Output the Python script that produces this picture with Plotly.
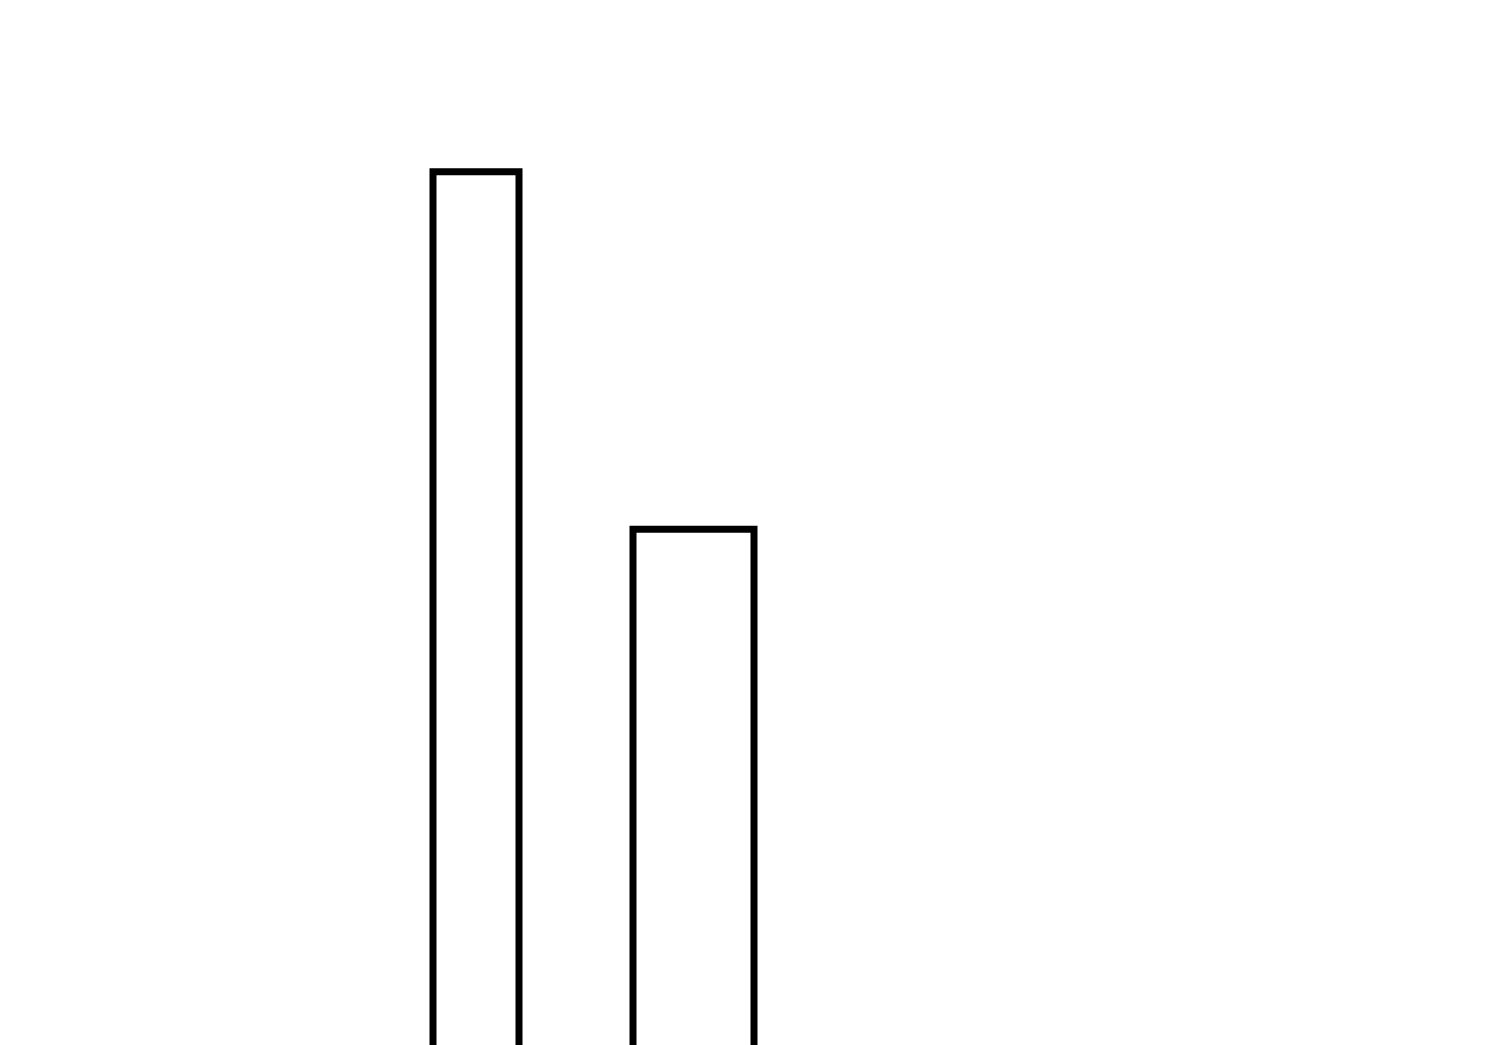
import plotly.graph_objects as go

# two outlined bars, no axes, cut off at the bottom edge
bar_pos = [4.68, 6.855]
bar_width = [0.86, 1.21]
bar_height = [85.9, 55.1]

fig = go.Figure()

fig.add_trace(
    go.Bar(x=bar_pos, y=bar_height, width=bar_width,
           marker=dict(color='rgba(255,255,255,0)',
                       line=dict(color='black', width=7)),
           showlegend=False, hoverinfo='skip')
)

fig.update_xaxes(range=[0, 15], visible=False, showgrid=False, zeroline=False)
fig.update_yaxes(range=[10, 100], visible=False, showgrid=False, zeroline=False)

fig.update_layout(width=1500, height=1045, autosize=False,
                  margin=dict(l=0, r=0, t=0, b=0),
                  paper_bgcolor='white', plot_bgcolor='white')

fig.write_html("out.html", config={'displayModeBar': False})
